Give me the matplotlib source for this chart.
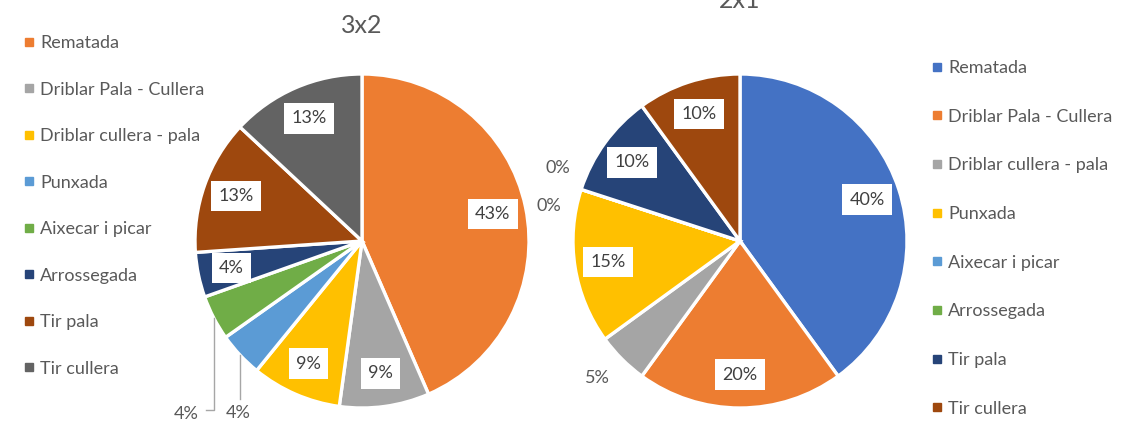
import numpy as np
import matplotlib
matplotlib.use('Agg')
import matplotlib.pyplot as plt
from matplotlib.lines import Line2D

plt.rcParams['font.family'] = ['Lato', 'DejaVu Sans']

# dades
categories = ['Rematada', 'Driblar Pala - Cullera', 'Driblar cullera - pala', 'Punxada',
              'Aixecar i picar', 'Arrossegada', 'Tir pala', 'Tir cullera']
counts_3x2 = [10, 2, 2, 1, 1, 1, 3, 3]
counts_2x1 = [8, 4, 1, 3, 0, 0, 2, 2]

colors_3x2 = ['#ED7D31', '#A5A5A5', '#FFC000', '#5B9BD5', '#70AD47', '#264478', '#9E480E', '#636363']
colors_2x1 = ['#4472C4', '#ED7D31', '#A5A5A5', '#FFC000', '#5B9BD5', '#70AD47', '#264478', '#9E480E']

W, H = 1142, 422
R = 167
TXT = '#595959'
FS = 13

fig = plt.figure(figsize=(W / 100, H / 100), dpi=100)
ax = fig.add_axes([0, 0, 1, 1])


def draw_pie(values, colors, center, outside):
    wedges, _ = ax.pie(values, colors=colors, startangle=90, counterclock=False,
                       center=center, radius=R,
                       wedgeprops=dict(edgecolor='white', linewidth=2.4))
    total = sum(values)
    for i, (w, v) in enumerate(zip(wedges, values)):
        pct = '%d%%' % round(v / total * 100)
        a = np.deg2rad((w.theta1 + w.theta2) / 2)
        ex, ey = center[0] + R * np.cos(a), center[1] + R * np.sin(a)
        if i in outside:
            dx, dy, leader = outside[i]
            tx, ty = ex + dx, ey + dy
            # linia guia
            if leader == 'elbow':
                ax.plot([ex, ex, tx + 20], [ey, ty + 4, ty + 4], color='#A6A6A6', lw=1)
            elif leader == 'line':
                ax.plot([ex, ex], [ey, ty + 14], color='#A6A6A6', lw=1)
            ax.text(tx, ty, pct, ha='center', va='center', fontsize=FS, color=TXT)
        else:
            lx, ly = center[0] + 0.8 * R * np.cos(a), center[1] + 0.8 * R * np.sin(a)
            ax.text(lx, ly, pct, ha='center', va='center', fontsize=FS, color='#404040',
                    bbox=dict(boxstyle='square,pad=0.4', fc='white', ec='none'))
    return wedges


draw_pie(counts_3x2, colors_3x2, (362, H - 241),
         {3: (-2, -58, 'line'), 4: (-28, -96, 'elbow')})
draw_pie(counts_2x1, colors_2x1, (740, H - 241),
         {2: (-24, -19, None), 4: (-23, 21, None), 5: (-32, -17, None)})

ax.set_xlim(0, W)
ax.set_ylim(0, H)
ax.set_aspect('equal')
ax.axis('off')

ax.text(362, H - 33, '3x2', ha='center', va='baseline', fontsize=18, color=TXT)
ax.text(740, H - 8, '2x1', ha='center', va='baseline', fontsize=18, color=TXT)


def handles(colors):
    return [Line2D([], [], marker='s', linestyle='none', markersize=6, color=c) for c in colors]


leg1 = ax.legend(handles(colors_3x2), categories, loc='upper left',
                 bbox_to_anchor=(24 / W, 1 - 35 / H), frameon=False, fontsize=FS,
                 labelcolor=TXT, labelspacing=1.69, handlelength=0.6, handletextpad=0.3,
                 borderpad=0, borderaxespad=0)
ax.add_artist(leg1)
ax.legend(handles(colors_2x1), categories, loc='upper left',
          bbox_to_anchor=(932 / W, 1 - 60 / H), frameon=False, fontsize=FS,
          labelcolor=TXT, labelspacing=1.81, handlelength=0.6, handletextpad=0.3,
          borderpad=0, borderaxespad=0)

fig.savefig('out.png', dpi=100, facecolor='white')
